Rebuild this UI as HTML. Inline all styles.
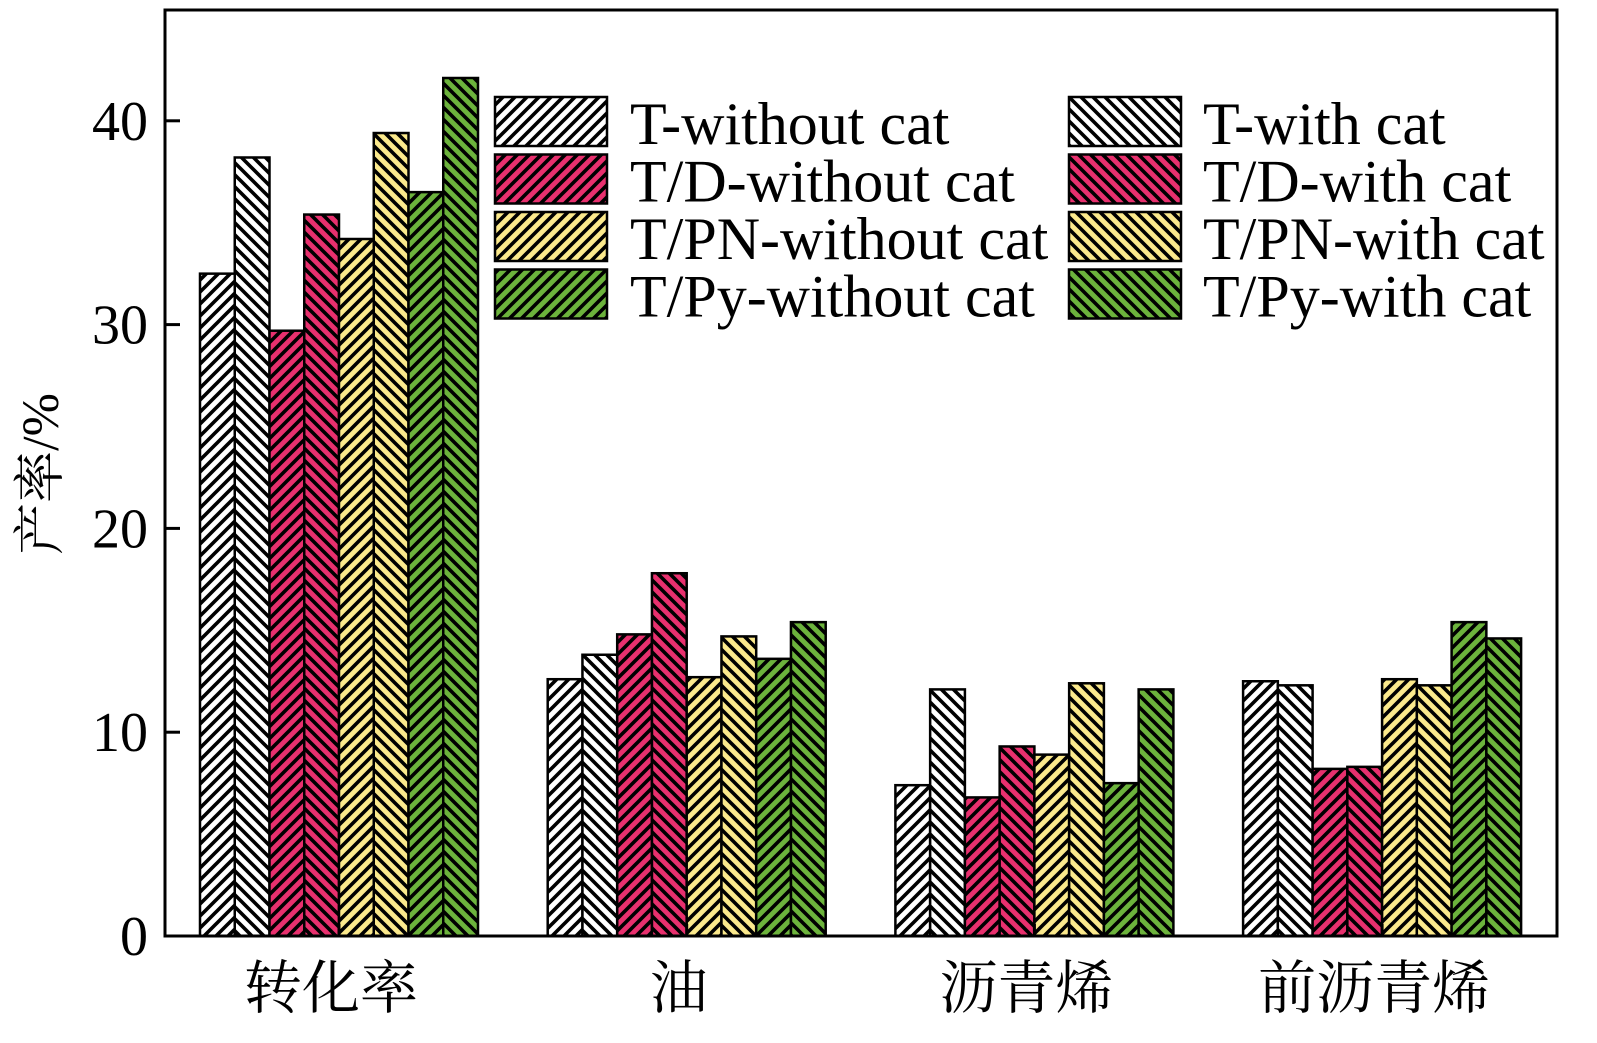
<!DOCTYPE html>
<html><head><meta charset="utf-8"><style>
body{margin:0;background:#fff}
svg text{font-family:"Liberation Serif","Noto Serif CJK SC",serif;fill:#000}
</style></head><body>
<svg id="c" width="1597" height="1038" xmlns="http://www.w3.org/2000/svg">
<defs>
<pattern id="hf" patternUnits="userSpaceOnUse" width="12" height="12"><path d="M-3,3 l6,-6 M0,12 l12,-12 M9,15 l6,-6" stroke="#000" stroke-width="3.6"/></pattern>
<pattern id="hb" patternUnits="userSpaceOnUse" width="12" height="12"><path d="M-3,9 l6,6 M0,0 l12,12 M9,-3 l6,6" stroke="#000" stroke-width="3.6"/></pattern>
</defs>
<g id="bars"></g>
<g id="legend"></g>
<rect x="165" y="10" width="1392" height="926" fill="none" stroke="#000" stroke-width="3"/>
<g id="axis"></g>
<text transform="translate(58,474) rotate(-90)" font-size="52" text-anchor="middle">产率/%</text>
</svg>
<script>
const categories=["转化率","油","沥青烯","前沥青烯"];
const seriesNames=["T-without cat","T-with cat","T/D-without cat","T/D-with cat","T/PN-without cat","T/PN-with cat","T/Py-without cat","T/Py-with cat"];
const seriesColors=["#ffffff","#ffffff","#e8306e","#e8306e","#fbe98c","#fbe98c","#6cb33c","#6cb33c"];
const values=[
[32.5,12.6,7.4,12.5],
[38.2,13.8,12.1,12.3],
[29.7,14.8,6.8,8.2],
[35.4,17.8,9.3,8.3],
[34.2,12.7,8.9,12.6],
[39.4,14.7,12.4,12.3],
[36.5,13.6,7.5,15.4],
[42.1,15.4,12.1,14.6]];
const yTicks=[0,10,20,30,40];
const NS="http://www.w3.org/2000/svg";
const y=v=>936-v*20.38;
const groupX=i=>200+i*347.7;
const bw=34.75;
function mk(t,a,p){const e=document.createElementNS(NS,t);for(const k in a)e.setAttribute(k,a[k]);p.appendChild(e);return e;}
const bars=document.getElementById('bars');
values.forEach((s,si)=>{s.forEach((v,ci)=>{
 const x=groupX(ci)+si*bw;
 const r1=mk('rect',{x:x,y:y(v),width:bw,height:936-y(v),fill:seriesColors[si]},bars);
 
 
 const r2=mk('rect',{x:x,y:y(v),width:bw,height:936-y(v),fill:si%2?'url(#hb)':'url(#hf)',stroke:'#000','stroke-width':2.5},bars);
 
 
});});
const ax=document.getElementById('axis');
yTicks.forEach(t=>{
 mk('line',{x1:165,x2:180,y1:y(t),y2:y(t),stroke:'#000','stroke-width':3},ax);
 const tx=mk('text',{x:148,y:y(t)+19,'font-size':56,'text-anchor':'end'},ax);
 tx.textContent=t;
 
 
});
categories.forEach((c,i)=>{
 const cx=groupX(i)+4*bw;
 mk('line',{x1:cx,x2:cx,y1:936,y2:924,stroke:'#000','stroke-width':3},ax);
 const tx=mk('text',{x:cx-8,y:1008,'font-size':58,'text-anchor':'middle'},ax);
 tx.textContent=c;
 
 
});
const lg=document.getElementById('legend');
seriesNames.forEach((n,i)=>{
 const col=i%2,row=Math.floor(i/2);
 const sx=col?1069:495,sy=97+row*57.5;
 mk('rect',{x:sx,y:sy,width:112,height:49,fill:seriesColors[i]},lg);
 const r=mk('rect',{x:sx,y:sy,width:112,height:49,fill:col?'url(#hb)':'url(#hf)',stroke:'#000','stroke-width':2.5},lg);
 
 
 const t=mk('text',{x:col?1203:630,y:sy+47,'font-size':60},lg);
 t.textContent=n;
 
 
});
</script>
</body></html>
